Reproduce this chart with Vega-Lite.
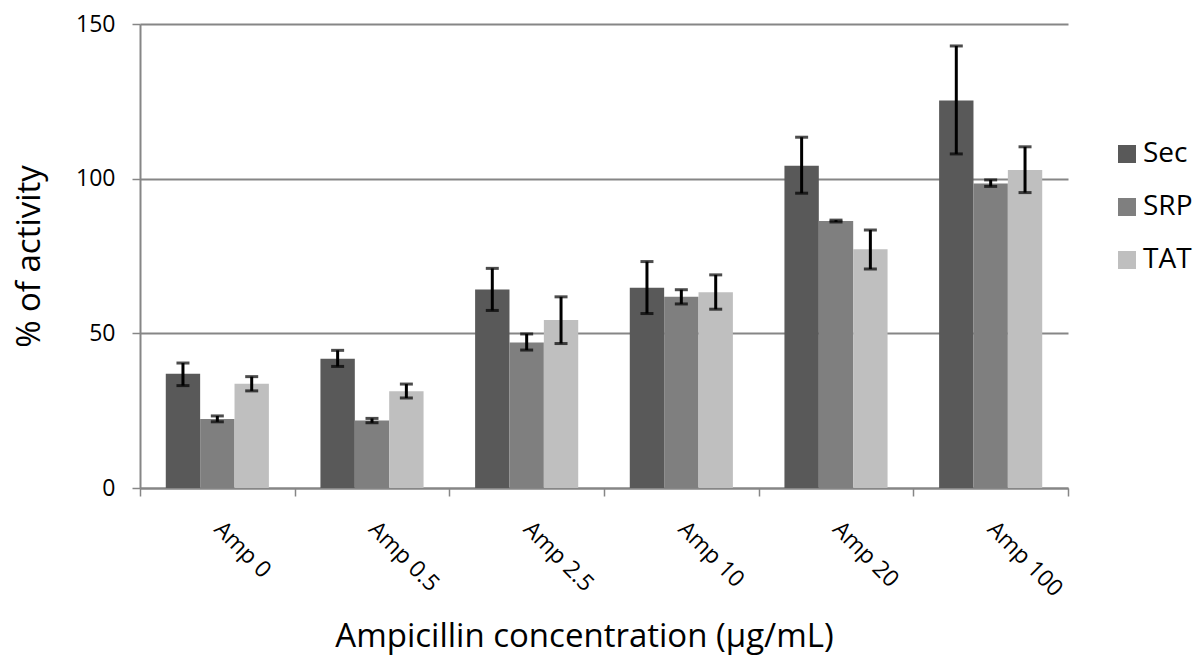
{
  "$schema": "https://vega.github.io/schema/vega-lite/v6.json",
  "width": 928,
  "height": 464,
  "autosize": "none",
  "padding": {"left": 140, "top": 24, "right": 132, "bottom": 178},
  "background": "white",
  "config": {
    "font": "Open Sans",
    "view": {"stroke": null}
  },
  "data": {
    "values": [
      {"group": "Amp 0", "series": "Sec", "value": 36.9, "lo": 33.1, "hi": 40.4},
      {"group": "Amp 0", "series": "SRP", "value": 22.3, "lo": 21.4, "hi": 23.3},
      {"group": "Amp 0", "series": "TAT", "value": 33.7, "lo": 31.4, "hi": 36.0},
      {"group": "Amp 0.5", "series": "Sec", "value": 41.8, "lo": 39.3, "hi": 44.5},
      {"group": "Amp 0.5", "series": "SRP", "value": 21.8, "lo": 21.1, "hi": 22.5},
      {"group": "Amp 0.5", "series": "TAT", "value": 31.3, "lo": 29.1, "hi": 33.6},
      {"group": "Amp 2.5", "series": "Sec", "value": 64.2, "lo": 57.4, "hi": 71.0},
      {"group": "Amp 2.5", "series": "SRP", "value": 47.0, "lo": 44.6, "hi": 49.8},
      {"group": "Amp 2.5", "series": "TAT", "value": 54.3, "lo": 46.7, "hi": 61.8},
      {"group": "Amp 10", "series": "Sec", "value": 64.7, "lo": 56.4, "hi": 73.2},
      {"group": "Amp 10", "series": "SRP", "value": 61.8, "lo": 59.5, "hi": 64.1},
      {"group": "Amp 10", "series": "TAT", "value": 63.3, "lo": 57.8, "hi": 68.9},
      {"group": "Amp 20", "series": "Sec", "value": 104.2, "lo": 95.3, "hi": 113.4},
      {"group": "Amp 20", "series": "SRP", "value": 86.3, "lo": 86.0, "hi": 86.6},
      {"group": "Amp 20", "series": "TAT", "value": 77.2, "lo": 70.8, "hi": 83.4},
      {"group": "Amp 100", "series": "Sec", "value": 125.3, "lo": 108.0, "hi": 142.9},
      {"group": "Amp 100", "series": "SRP", "value": 98.4, "lo": 97.5, "hi": 99.6},
      {"group": "Amp 100", "series": "TAT", "value": 102.8, "lo": 95.5, "hi": 110.3}
    ]
  },
  "encoding": {
    "x": {
      "field": "group",
      "type": "nominal",
      "sort": ["Amp 0", "Amp 0.5", "Amp 2.5", "Amp 10", "Amp 20", "Amp 100"],
      "scale": {"paddingInner": 0, "paddingOuter": 0},
      "axis": {
        "title": "Ampicillin concentration (µg/mL)",
        "titleFontSize": 33,
        "titleFontWeight": "normal",
        "titleColor": "black",
        "titlePadding": 20,
        "titleX": 444,
        "labelAngle": 45,
        "labelAlign": "left",
        "labelBaseline": "middle",
        "labelFontSize": 23,
        "labelColor": "black",
        "labelPadding": 29,
        "tickBand": "extent",
        "tickSize": 8,
        "tickColor": "#868686",
        "tickWidth": 1.5,
        "domainColor": "#868686",
        "domainWidth": 2
      }
    },
    "xOffset": {
      "field": "series",
      "type": "nominal",
      "sort": ["Sec", "SRP", "TAT"],
      "scale": {"paddingInner": 0, "paddingOuter": 0.75}
    }
  },
  "layer": [
    {
      "mark": {"type": "bar"},
      "encoding": {
        "y": {
          "field": "value",
          "type": "quantitative",
          "scale": {"domain": [0, 150], "nice": false},
          "axis": {
            "title": "% of activity",
            "titleFontSize": 33,
            "titleFontWeight": "normal",
            "titleColor": "black",
            "titlePadding": 29,
            "values": [0, 50, 100, 150],
            "labelFontSize": 23,
            "labelColor": "black",
            "labelPadding": 17,
            "tickSize": 8,
            "tickColor": "#868686",
            "tickWidth": 1.5,
            "domainColor": "#868686",
            "domainWidth": 2,
            "grid": true,
            "gridColor": "#868686",
            "gridWidth": 2
          }
        },
        "color": {
          "field": "series",
          "type": "nominal",
          "sort": ["Sec", "SRP", "TAT"],
          "scale": {"domain": ["Sec", "SRP", "TAT"], "range": ["#595959", "#7f7f7f", "#bfbfbf"]},
          "legend": {
            "title": null,
            "orient": "none",
            "legendX": 973,
            "legendY": 116,
            "symbolType": "square",
            "symbolSize": 324,
            "symbolStrokeWidth": 0,
            "labelFontSize": 28,
            "labelColor": "black",
            "labelOffset": 2,
            "rowPadding": 25
          }
        }
      }
    },
    {
      "mark": {"type": "rule", "color": "black", "strokeWidth": 3},
      "encoding": {
        "y": {"field": "lo", "type": "quantitative"},
        "y2": {"field": "hi"}
      }
    },
    {
      "mark": {"type": "tick", "color": "black", "thickness": 3, "size": 13},
      "encoding": {
        "y": {"field": "lo", "type": "quantitative"}
      }
    },
    {
      "mark": {"type": "tick", "color": "black", "thickness": 3, "size": 13},
      "encoding": {
        "y": {"field": "hi", "type": "quantitative"}
      }
    }
  ]
}
